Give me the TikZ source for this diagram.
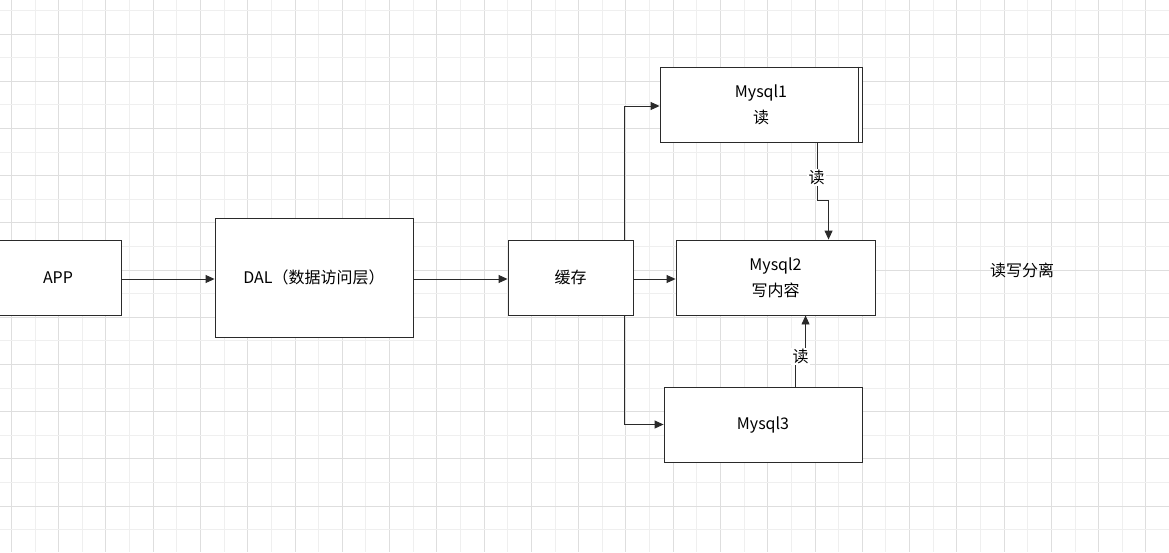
\documentclass[tikz,border=0pt]{standalone}
\usepackage{fontspec}
\setmainfont{Noto Sans CJK SC}
\usetikzlibrary{arrows.meta,calc}
\definecolor{gridD}{HTML}{DEDEDE}
\definecolor{gridL}{HTML}{EFEFEF}
\definecolor{ink}{HTML}{2A2A2A}
\tikzset{
  box/.style={draw=ink,line width=0.9pt,fill=white,rectangle,inner sep=0pt,align=center,
    font=\fontsize{16}{26}\selectfont},
  conn/.style={draw=ink,line width=0.9pt,-{Triangle[length=9pt,width=8pt]}},
  lbl/.style={fill=white,inner sep=1.5pt,font=\fontsize{16}{18}\selectfont},
}
\begin{document}
\begin{tikzpicture}[x=1pt,y=-1pt]
\useasboundingbox (0,0) rectangle (1169,552);
\clip (0,0) rectangle (1169,552);
\fill[white] (0,0) rectangle (1169,552);
% grid
\foreach \i in {0,...,49}{
  \pgfmathsetmacro{\xx}{11.3+\i*23.636}
  \pgfmathtruncatemacro{\odd}{mod(\i,2)}
  \ifnum\odd=0
    \draw[gridD,line width=0.8pt] (\xx,0) -- (\xx,552);
  \else
    \draw[gridL,line width=0.8pt] (\xx,0) -- (\xx,552);
  \fi
}
\foreach \i in {0,...,23}{
  \pgfmathsetmacro{\yy}{10.3+\i*23.6}
  \pgfmathtruncatemacro{\odd}{mod(\i,2)}
  \ifnum\odd=1
    \draw[gridD,line width=0.8pt] (0,\yy) -- (1169,\yy);
  \else
    \draw[gridL,line width=0.8pt] (0,\yy) -- (1169,\yy);
  \fi
}
% nodes
\node[box,minimum width=126,minimum height=75] (app) at (58,277.5) {APP};
\node[box,minimum width=198,minimum height=119] (dal) at (314,277.5) {DAL（数据访问层）};
\node[box,minimum width=125,minimum height=75] (cache) at (570.5,277.5) {缓存};
\node[box,minimum width=202,minimum height=75] (m1) at (761,104.5) {Mysql1\\读};
\draw[ink,line width=0.9pt] ($(m1.north east)+(-4,0)$) -- ($(m1.south east)+(-4,0)$);
\node[box,minimum width=199,minimum height=75] (m2) at (775.5,277.5) {Mysql2\\写内容};
\node[box,minimum width=198,minimum height=75] (m3) at (763,424.5) {Mysql3};
\node[font=\fontsize{16}{18}\selectfont] (title) at (1022,270) {读写分离};
% connectors
\draw[conn] ($(app.east)+(0,1.5)$) -- ($(dal.west)+(0,1.5)$);
\draw[conn] ($(dal.east)+(0,1.5)$) -- ($(cache.west)+(0,1.5)$);
\draw[conn] ($(cache.east)+(0,1.5)$) -- ($(m2.west)+(0,1.5)$);
\draw[conn] ($(cache.north east)+(-9,0)$) |- ($(m1.west)+(0,1.5)$);
\draw[conn] ($(cache.south east)+(-9,0)$) |- (m3.west);
\draw[conn] ($(m1.south west)+(158,0)$) -- ++(0,58) coordinate (e1) -| ($(m2.north west)+(153,0)$);
\node[lbl] (l1) at ($(m1.south west)+(157,35)$) {读};
\draw[conn] ($(m3.north west)+(132,0)$) -- ++(0,-30) coordinate (e2) -| ($(m2.south west)+(130,0)$);
\node[lbl] (l2) at ($(m3.north west)+(137,-30)$) {读};
\end{tikzpicture}
\end{document}
